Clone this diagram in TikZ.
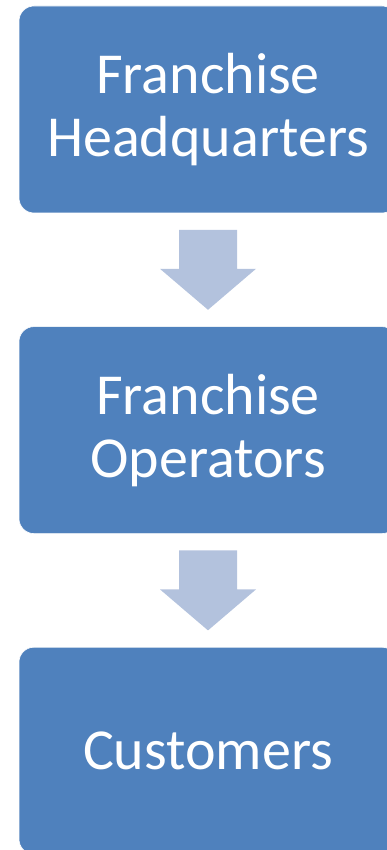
\documentclass[tikz,border=0pt]{standalone}
\usepackage{fontspec}
\setmainfont{Carlito}
\usepackage{tikz}
\usetikzlibrary{positioning}
\usetikzlibrary{calc}
\definecolor{boxblue}{HTML}{4F81BD}
\definecolor{arrowblue}{HTML}{B3C2DD}
\tikzset{step box/.style={rectangle,rounded corners=15pt,fill=boxblue,draw=white,line width=0.6pt,
    minimum width=378pt,minimum height=207pt,inner sep=0pt,align=center,text=white,
    font=\fontsize{58}{63}\selectfont},
  down arrow/.style={fill=arrowblue,draw=none}}

\begin{document}
\begin{tikzpicture}[node distance=113pt]
	\useasboundingbox (0,0) rectangle (386pt,-850pt);
	\node[step box] (hq) at (208pt,-109.5pt) {Franchise\\Headquarters};
	\node[step box] (op) [below = of hq] {Franchise\\Operators};
	\node[step box] (cu) [below = of op] {Customers};

	\foreach \a/\b in {hq/op, op/cu}{
	    \coordinate (m) at ($(\a.south)!0.5!(\b.north)$);
	    \fill[down arrow] ($(m)+(-29pt,40pt)$) -- ($(m)+(29pt,40pt)$) -- ($(m)+(29pt,1pt)$)
	        -- ($(m)+(48pt,1pt)$) -- ($(m)+(0pt,-40pt)$) -- ($(m)+(-48pt,1pt)$)
	        -- ($(m)+(-29pt,1pt)$) -- cycle;
	}
\end{tikzpicture}
\end{document}
